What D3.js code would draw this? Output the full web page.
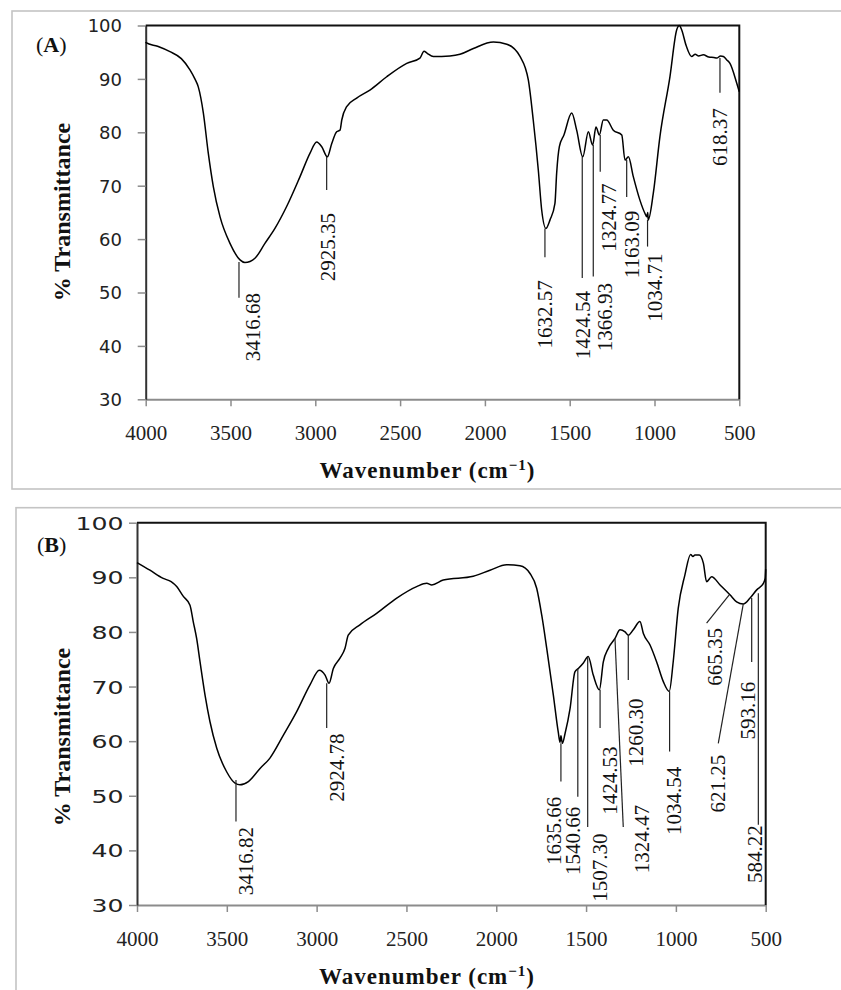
<!DOCTYPE html>
<html>
<head>
<meta charset="utf-8">
<script src="https://cdn.jsdelivr.net/npm/d3@7"></script>
<style>
  html, body { margin: 0; padding: 0; background: #fff; }
  svg { display: block; }
</style>
</head>
<body>
<svg id="chart" width="841" height="990"></svg>
<script>
// ---- data: [wavenumber cm-1, % transmittance] ----
const spectrumA = [
  [4000,96.9],[3998,96.8],[3930,96.1],[3857,95.1],[3790,93.8],[3739,91.7],[3710,90.0],[3690,88.5],[3660,83.6],
  [3631,76.1],[3601,69.8],[3562,64.2],[3503,59.2],[3444,56.1],[3415,55.6],[3385,55.8],[3356,56.4],[3297,59.2],
  [3238,62.0],[3169,66.1],[3090,71.7],[3031,76.1],[2992,78.2],[2962,77.3],[2929,75.4],[2903,77.9],[2874,80.1],
  [2854,80.4],[2844,82.3],[2815,84.8],[2756,86.4],[2678,87.9],[2579,90.4],[2461,92.9],[2383,93.9],[2359,95.2],
  [2340,94.8],[2304,94.2],[2206,94.3],[2147,94.6],[2068,95.7],[1950,96.9],[1871,96.5],[1793,94.2],
  [1744,89.8],[1715,82.3],[1685,72.9],[1665,65.4],[1640,62.0],[1616,63.6],[1587,66.7],[1577,72.3],
  [1561,77.3],[1534,79.5],[1488,83.6],[1459,80.4],[1423,75.4],[1390,80.1],[1365,77.6],[1345,81.0],
  [1325,79.5],[1302,82.3],[1282,82.3],[1243,80.4],[1193,79.5],[1174,74.8],[1154,75.4],[1125,71.7],
  [1086,67.3],[1056,64.8],[1045,64.2],[1040,65.0],[1037,63.6],[1007,68.6],[968,79.2],[909,90.4],
  [869,99.2],[854,100],[840,99.2],[814,96.3],[781,94.2],[760,94.6],[740,94.3],[712,94.5],[680,94.1],
  [650,94.0],[633,93.9],[610,94.3],[594,94.2],[575,93.6],[555,92.9],[515,89.2],[500,87.6]
];
const spectrumB = [
  [4000,92.7],[3928,91.3],[3854,89.8],[3810,89.2],[3779,88.3],[3742,86.5],[3705,84.9],[3687,81.9],[3668,78.8],
  [3649,74.5],[3621,68.4],[3594,63.6],[3556,58.7],[3501,54.4],[3454,52.3],[3427,52.0],[3380,52.6],
  [3315,55.0],[3260,56.9],[3185,61.1],[3111,65.4],[3037,70.3],[2985,73.0],[2953,72.1],[2931,70.6],
  [2907,73.3],[2870,75.2],[2842,77.0],[2824,79.4],[2759,81.3],[2666,83.4],[2554,86.2],[2443,88.3],
  [2387,88.9],[2359,88.6],[2295,89.5],[2128,90.2],[2035,91.3],[1942,92.3],[1868,92.1],[1812,90.7],
  [1775,88.0],[1747,83.1],[1719,77.0],[1682,68.4],[1655,61.7],[1645,59.8],[1640,61.0],[1632,59.6],
  [1617,61.4],[1589,66.0],[1562,72.7],[1543,73.3],[1515,74.3],[1488,75.5],[1460,72.1],[1426,69.4],
  [1404,74.5],[1376,77.0],[1339,78.8],[1311,80.4],[1283,80.0],[1265,79.4],[1237,80.4],[1200,81.9],
  [1181,79.7],[1144,77.6],[1107,74.5],[1070,70.9],[1037,69.1],[1015,74.5],[987,84.3],[950,90.4],
  [918,94.2],[905,93.8],[894,94.1],[870,94.1],[847,92.6],[829,89.2],[801,90.1],[754,88.6],[699,86.8],
  [662,85.5],[625,85.1],[587,86.2],[550,87.7],[513,88.9],[503,89.8],[500,91.5]
];

const xTicks = [4000, 3500, 3000, 2500, 2000, 1500, 1000, 500];
const yTicks = [30, 40, 50, 60, 70, 80, 90, 100];

// peak labels: text, leader line [w1,T1,w2,T2], text top [w,T]
const peaksA = ["3416.68","2925.35","1632.57","1424.54","1366.93","1324.77","1163.09","1034.71","618.37"];
const leadersA = [[3450,55.7,3450,49.0],[2933,75.4,2933,69.2],[1646,62.0,1646,56.6],[1426,75.4,1426,52.7],
  [1361,77.6,1361,53.0],[1320,79.5,1320,72.6],[1164,74.8,1164,67.9],[1041,63.6,1041,58.6],[614,93.9,614,87.4]];
const textsA = [[3366,49.9],[2928,64.9],[1648,52.3],[1422,50.3],[1294,51.8],[1268,70.4],[1133,65.3],[997,57.3],[614,84.5]];

const peaksB = ["3416.82","2924.78","1635.66","1540.66","1507.30","1424.53","1324.47","1260.30","1034.54",
  "665.35","621.25","593.16","584.22"];
const leadersB = [[3449,52.9,3449,45.3],[2944,70.6,2944,62.4],[1640,59.6,1640,52.6],[1546,73.3,1546,49.8],
  [1491,75.5,1491,44.3],[1422,69.4,1422,62.4],[1339,78.8,1293,44.3],[1265,79.4,1265,71.2],[1035,69.1,1035,58.1],
  [703,86.8,829,81.6],[625,85.1,764,59.6],[578,86.2,578,74.5],[541,87.1,541,44.7]];
const textsB = [[3394,44.3],[2888,61.4],[1682,49.8],[1571,48.0],[1422,43.1],[1367,59.0],[1190,48.3],[1222,67.8],
  [1010,55.3],[782,80.7],[768,57.5],[601,70.9],[561,44.6]];

const svg = d3.select("#chart");
const serif = "'Liberation Serif', 'Times New Roman', serif";
const sans = "'DejaVu Sans', Verdana, sans-serif";

function panel(p) {
  // outer frame
  svg.append("rect")
    .attr("x", p.box[0]).attr("y", p.box[1]).attr("width", p.box[2]).attr("height", p.box[3])
    .attr("fill", "none").attr("stroke", "#c4c4c4").attr("stroke-width", 1.6);

  const x = d3.scaleLinear().domain([4000, 500]).range([p.left, p.right]);
  const y = d3.scaleLinear().domain([30, 100]).range([p.bottom, p.top]);
  const g = svg.append("g");

  // x axis
  const xa = g.append("g").attr("transform", `translate(0,${p.bottom})`)
    .call(d3.axisBottom(x).tickValues(xTicks).tickSize(7).tickSizeOuter(0).tickFormat(d3.format("d")));
  xa.select(".domain").attr("stroke", "#8c8c8c").attr("stroke-width", 2);
  xa.selectAll(".tick line").attr("stroke", "#8c8c8c").attr("stroke-width", 1.5);
  xa.selectAll(".tick text").attr("font-family", serif).attr("font-size", 21).attr("fill", "#222")
    .attr("y", p.xLabY - p.bottom).attr("dy", "0.35em");

  // y axis
  const ya = g.append("g").attr("transform", `translate(${p.left},0)`)
    .call(d3.axisLeft(y).tickValues(yTicks).tickSize(8).tickSizeOuter(0));
  ya.select(".domain").attr("stroke", "#333").attr("stroke-width", 2);
  ya.selectAll(".tick line").attr("stroke", "#8c8c8c").attr("stroke-width", 1.5);
  ya.selectAll(".tick text").attr("font-family", sans).attr("font-size", 18).attr("fill", "#222")
    .attr("x", 0).attr("dy", "0.36em")
    .attr("transform", `translate(${p.yLabX - p.left},0) scale(${p.yLabScale},1)`);

  // top and right plot border
  g.append("path")
    .attr("d", `M${p.left},${p.top}H${p.right}V${p.bottom}`)
    .attr("fill", "none").attr("stroke", "#111").attr("stroke-width", 2);

  // spectrum
  const line = d3.line().x(d => x(d[0])).y(d => y(d[1])).curve(d3.curveMonotoneX);
  g.append("path").datum(p.spec).attr("d", line)
    .attr("fill", "none").attr("stroke", "#000").attr("stroke-width", 1.5).attr("stroke-linejoin", "round");

  // leaders
  g.selectAll(".leader").data(p.leaders).join("line")
    .attr("x1", d => x(d[0])).attr("y1", d => y(d[1]))
    .attr("x2", d => x(d[2])).attr("y2", d => y(d[3]))
    .attr("stroke", "#222").attr("stroke-width", 1.2);

  // peak texts, rotated
  g.selectAll(".peak").data(p.peaks).join("text")
    .attr("transform", (d, i) => `translate(${x(p.texts[i][0])},${y(p.texts[i][1])}) rotate(-90)`)
    .attr("text-anchor", "end").attr("dy", "0.34em")
    .attr("font-family", serif).attr("font-size", 21).attr("fill", "#111")
    .text(d => d);

  // axis titles
  const xt = g.append("text").attr("x", p.xTitle[0]).attr("y", p.xTitle[1]).attr("dy", "0.35em")
    .attr("text-anchor", "middle").attr("font-family", serif).attr("font-weight", "bold")
    .attr("font-size", 23).attr("letter-spacing", 1).attr("fill", "#111");
  xt.append("tspan").text("Wavenumber (cm");
  xt.append("tspan").attr("font-size", 15).attr("dy", "-0.55em").text("\u22121");
  xt.append("tspan").attr("dy", "0.35em").text(")");

  g.append("text")
    .attr("transform", `translate(${p.yTitle[0]},${p.yTitle[1]}) rotate(-90)`)
    .attr("text-anchor", "middle").attr("dy", "0.35em")
    .attr("font-family", serif).attr("font-weight", "bold").attr("font-size", 24).attr("fill", "#111")
    .text("% Transmittance");

  // panel letter
  const pl = g.append("text").attr("x", p.letterPos[0]).attr("y", p.letterPos[1])
    .attr("font-family", serif).attr("font-size", 22).attr("fill", "#111");
  pl.append("tspan").text("(");
  pl.append("tspan").attr("font-weight", "bold").text(p.letter);
  pl.append("tspan").text(")");
}

panel({
  box: [12, 11, 840, 478],
  left: 145.7, right: 739.3, top: 25.5, bottom: 399.3,
  xLabY: 432.7, yLabX: 122, yLabScale: 1,
  spec: spectrumA, peaks: peaksA, leaders: leadersA, texts: textsA,
  xTitle: [427.5, 470], yTitle: [62, 212],
  letter: "A", letterPos: [36, 52]
});

panel({
  box: [16, 507.7, 840, 500],
  left: 137, right: 765.7, top: 522.7, bottom: 905,
  xLabY: 939, yLabX: 123.5, yLabScale: 1.4,
  spec: spectrumB, peaks: peaksB, leaders: leadersB, texts: textsB,
  xTitle: [427, 976], yTitle: [62, 737],
  letter: "B", letterPos: [37, 552]
});
</script>
</body>
</html>
